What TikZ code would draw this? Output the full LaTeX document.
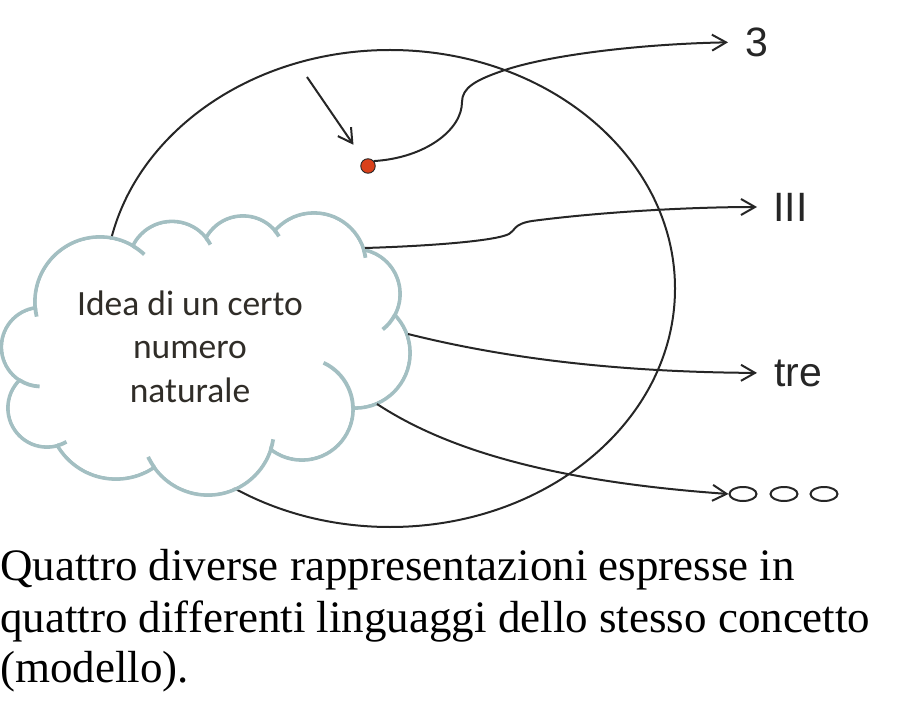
\documentclass[tikz,border=0pt]{standalone}
\usepackage{fontspec}
\setmainfont{Liberation Serif}
\newfontfamily\cloudfont{Carlito}
\newfontfamily\lblfont{Liberation Sans}
\usetikzlibrary{arrows.meta,shapes.geometric}
\definecolor{cloudc}{RGB}{163,191,194}
\definecolor{ink}{RGB}{38,38,38}
\definecolor{dotred}{RGB}{217,64,26}
\definecolor{ctext}{RGB}{48,45,40}
\begin{document}
\begin{tikzpicture}[x=1pt,y=-1pt,
  conn/.style={draw=ink, line width=2pt, -{Straight Barb[length=14pt,width=16pt,line width=2pt]}},
  cloudline/.style={draw=cloudc, line width=3.8pt},
  lbl/.style={font=\lblfont\fontsize{41}{49}\selectfont, text=ink, inner sep=0pt, anchor=west},
  idea/.style={font=\cloudfont\fontsize{35.5}{43}\selectfont, text=ctext, inner sep=0pt, anchor=base},
  caption/.style={font=\fontsize{45}{52}\selectfont, text=black, inner sep=0pt, anchor=base west},
  smallell/.style={draw=ink, ellipse, line width=2pt, minimum width=27pt, minimum height=14pt, inner sep=0pt}]
\useasboundingbox (0,0) rectangle (913,711);

% big ellipse
\draw[ink, line width=2pt] (390,288.5) ellipse [x radius=285, y radius=238.5];

% cloud: bumps
\foreach \cx/\cy/\r in {100/302/65, 172/265/43.5, 243/258/42, 314/265/52, 355/294/45, 355/353/55, 302/409/51, 208/429/66, 116/411/68, 47/408/39, 41/347/39.5}
  \draw[cloudline] (\cx,\cy) circle [radius=\r];
\foreach \cx/\cy/\r in {100/302/65, 172/265/43.5, 243/258/42, 314/265/52, 355/294/45, 355/353/55, 302/409/51, 208/429/66, 116/411/68, 47/408/39, 41/347/39.5}
  \fill[white] (\cx,\cy) circle [radius={\r-1.9}];
\fill[white] (100,302) -- (172,265) -- (243,258) -- (314,265) -- (355,294) -- (355,353) -- (302,409) -- (208,429) -- (116,411) -- (47,408) -- (41,347) -- cycle;
% inner ticks
\foreach \cx/\cy/\r/\a/\b in {100/302/65/175/167, 100/302/65/300.5/313, 172/265/43.5/321.5/332, 243/258/42/319/329, 314/265/52/343/352, 355/294/45/28/52, 302/409/51/359/295, 208/429/66/18/9, 208/429/66/144.6/155, 47/408/39/74.4/60, 41/347/39.5/123/92}
  \draw[cloudline] (\cx,\cy) ++(\a:\r) arc [start angle=\a, end angle=\b, radius=\r];

\node[idea] (idea1) at (190,316) {Idea di un certo};
\node[idea] (idea2) at (190,358) {numero};
\node[idea] (idea3) at (190,402) {naturale};

% connector start points on the cloud
\coordinate (s3) at (365,248);
\coordinate (s4) at (408,334);
\coordinate (s5) at (377,404);
\coordinate (p0) at (307,77);

% dot and labels
\node[circle, fill=dotred, draw=ink, line width=0.9pt, minimum size=14.5pt, inner sep=0pt] (dot) at (368,166) {};
\node[lbl] (t3) at (745,42) {3};
\node[lbl] (tIII) at (773,207) {III};
\node[lbl] (ttre) at (774,373) {tre};
\node[smallell] (c1) at (743,494) {};
\node[smallell] (c2) at (784,494) {};
\node[smallell] (c3) at (824,494) {};

% connectors
\draw[conn, shorten >=18pt] (p0) -- (dot);
\draw[conn, shorten >=17pt] (dot.40) .. controls (425,158) and (462,130) .. (462,102)
   .. controls (462,88) and (475,80) .. (505,70)
   .. controls (550,55) and (640,44) .. (t3.west);
\draw[conn, shorten >=16pt] (s3) .. controls (430,246) and (495,241) .. (509,234)
   .. controls (515,231) and (513,224) .. (532,221)
   .. controls (600,212) and (690,207) .. (tIII.west);
\draw[conn, shorten >=17pt] (s4) .. controls (480,352) and (590,372) .. (ttre.west);
\draw[conn] (s5) .. controls (450,452) and (560,482) .. (c1.west);

% caption
\node[caption] (cap1) at (0,580) {Quattro diverse rappresentazioni espresse in};
\node[caption] (cap2) at (0,632) {quattro differenti linguaggi dello stesso concetto};
\node[caption] (cap3) at (0,682) {(modello).};
\end{tikzpicture}
\end{document}
